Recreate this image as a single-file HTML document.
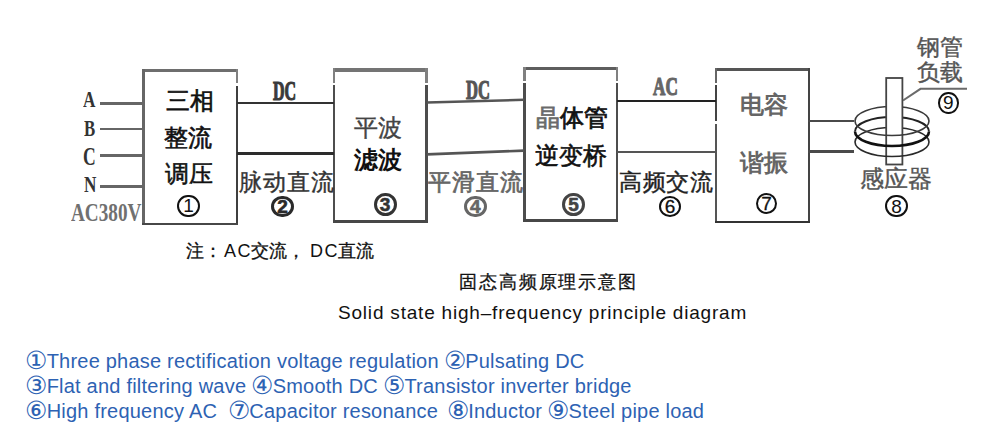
<!DOCTYPE html>
<html><head><meta charset="utf-8">
<style>
html,body{margin:0;padding:0;background:#fff;}
body{width:1000px;height:436px;position:relative;overflow:hidden;font-family:"Liberation Sans",sans-serif;color:#222;}
.a{position:absolute;white-space:nowrap;}
.r{position:absolute;}
.hl{position:absolute;height:2.5px;background:#4a4a4a;}
.lab{position:absolute;font-family:"Liberation Serif",serif;font-weight:bold;color:#333;font-size:20px;line-height:20px;transform-origin:0 0;white-space:nowrap;}
.cj{position:absolute;font-size:24px;line-height:24px;color:#222;white-space:nowrap;-webkit-text-stroke:0.4px currentColor;}
.cn{position:absolute;box-sizing:border-box;border-radius:50%;display:flex;align-items:center;justify-content:center;font-family:"Liberation Sans",sans-serif;line-height:1;}
.blue{position:absolute;color:#2d62b3;font-size:20px;line-height:22px;white-space:nowrap;letter-spacing:0.22px;}
.blue span{font-size:25px;letter-spacing:0;position:relative;top:0.5px;margin:0 -0.7px;}
</style></head><body>
<!-- input lines -->
<div class="hl" style="left:99.6px;top:102.2px;width:43px;height:2.8px;background:#666;"></div>
<div class="hl" style="left:99.6px;top:127.6px;width:43px;height:2.8px;background:#666;"></div>
<div class="hl" style="left:99.6px;top:153.9px;width:43px;height:2.8px;background:#666;"></div>
<div class="hl" style="left:99.6px;top:185px;width:43px;height:2.8px;background:#666;"></div>
<div class="lab" style="left:83px;top:86.5px;transform:scale(0.86,1.2);">A</div>
<div class="lab" style="left:84px;top:115.5px;transform:scale(0.84,1.2);">B</div>
<div class="lab" style="left:83px;top:144px;transform:scale(0.88,1.24);">C</div>
<div class="lab" style="left:83.5px;top:171.5px;transform:scale(0.86,1.2);">N</div>
<div class="lab" style="left:71px;top:199.5px;color:#707070;transform:scale(0.96,1.25);">AC380V</div>

<!-- boxes -->
<div class="r" style="left:142px;top:68.8px;width:96.3px;height:3.2px;background:#6e6e6e;"></div>
<div class="r" style="left:142px;top:68.8px;width:2.6px;height:156.5px;background:#666;"></div>
<div class="r" style="left:235.70000000000002px;top:68.8px;width:2.6px;height:14.700000000000003px;background:#808080;"></div>
<div class="r" style="left:235.70000000000002px;top:85.7px;width:2.6px;height:139.60000000000002px;background:#3f3f3f;"></div>
<div class="r" style="left:142px;top:222.70000000000002px;width:96.30000000000001px;height:2.6px;background:#474747;"></div>
<div class="r" style="left:332.6px;top:68px;width:95.4px;height:3.5px;background:#747474;"></div>
<div class="r" style="left:332.6px;top:68px;width:2.6px;height:15px;background:#808080;"></div>
<div class="r" style="left:332.6px;top:85.2px;width:2.6px;height:137.8px;background:#4d4d4d;"></div>
<div class="r" style="left:425.4px;top:68px;width:2.6px;height:15px;background:#808080;"></div>
<div class="r" style="left:425.4px;top:85.2px;width:2.6px;height:137.8px;background:#4d4d4d;"></div>
<div class="r" style="left:332.6px;top:220.4px;width:95.39999999999998px;height:2.6px;background:#474747;"></div>
<div class="r" style="left:523.2px;top:66.6px;width:95.3px;height:3.5px;background:#5e5e5e;"></div>
<div class="r" style="left:523.2px;top:66.6px;width:2.6px;height:14.600000000000009px;background:#808080;"></div>
<div class="r" style="left:523.2px;top:83.4px;width:2.6px;height:138.40000000000003px;background:#4d4d4d;"></div>
<div class="r" style="left:615.9px;top:66.6px;width:2.6px;height:14.600000000000009px;background:#808080;"></div>
<div class="r" style="left:615.9px;top:83.4px;width:2.6px;height:138.40000000000003px;background:#4d4d4d;"></div>
<div class="r" style="left:523.2px;top:219.20000000000002px;width:95.29999999999995px;height:2.6px;background:#474747;"></div>
<div class="r" style="left:715px;top:68px;width:95px;height:2.6px;background:#555;"></div>
<div class="r" style="left:715px;top:68px;width:2.4px;height:14.6px;background:#666;"></div>
<div class="r" style="left:715px;top:84.8px;width:2.4px;height:36px;background:#444;"></div>
<div class="r" style="left:715px;top:123.5px;width:2.4px;height:99.5px;background:#555;"></div>
<div class="r" style="left:807.6px;top:68px;width:2.4px;height:155px;background:#444;"></div>
<div class="r" style="left:715px;top:220.6px;width:95px;height:2.4px;background:#333;"></div>

<!-- box1 text -->
<div class="cj" style="left:166px;top:89px;-webkit-text-stroke:0.6px #111;color:#111;">三相</div>
<div class="cj" style="left:164px;top:126px;-webkit-text-stroke:0.6px #111;color:#111;">整流</div>
<div class="cj" style="left:165px;top:162px;-webkit-text-stroke:0.5px #111;color:#111;">调压</div>

<!-- connections 1-2 -->
<div class="hl" style="left:237px;top:101.6px;width:97px;height:2.5px;background:#333;"></div>
<div class="hl" style="left:237px;top:152px;width:97px;height:2.8px;background:#2c2c2c;"></div>
<div class="lab" style="left:273px;top:77px;transform:scale(0.8,1.36);color:#3a3a3a;-webkit-text-stroke:0.9px #3a3a3a;">DC</div>
<div class="cj" style="left:239px;top:170.5px;color:#333;font-size:22.5px;letter-spacing:1px;">脉动直流</div>

<!-- box2 text -->
<div class="cj" style="left:354px;top:116px;color:#444;">平波</div>
<div class="cj" style="left:354px;top:148px;color:#111;font-weight:bold;-webkit-text-stroke:0;">滤波</div>

<!-- connections 2-3 -->
<svg class="a" style="left:0;top:0" width="1000" height="436"><path d="M427 102.5 L524 99.8" stroke="#555" stroke-width="2.6" fill="none"/><path d="M427 154.4 L524 150.6" stroke="#555" stroke-width="2.6" fill="none"/></svg>

<div class="lab" style="left:466px;top:76px;transform:scale(0.83,1.36);color:#555;-webkit-text-stroke:0.9px #555;">DC</div>
<div class="cj" style="left:428px;top:171px;color:#666;-webkit-text-stroke:0.7px #666;font-size:22.5px;letter-spacing:1px;">平滑直流</div>

<!-- box3 text -->
<div class="cj" style="left:536px;top:106px;color:#111;-webkit-text-stroke:0.8px #111;"><span style="color:#6a6a6a;-webkit-text-stroke:0.8px #6a6a6a;">晶</span>体管</div>
<div class="cj" style="left:535px;top:144px;color:#111;-webkit-text-stroke:0.6px #111;">逆变桥</div>

<!-- connections 3-4 -->
<div class="hl" style="left:617px;top:99.8px;width:99px;height:2px;background:#222;"></div>
<div class="hl" style="left:617px;top:150.8px;width:99px;height:2.2px;background:#555;"></div>
<div class="lab" style="left:653px;top:73.5px;color:#666;transform:scale(0.86,1.26);-webkit-text-stroke:0.9px #666;">AC</div>
<div class="cj" style="left:619px;top:171px;font-size:22.5px;letter-spacing:0.5px;">高频交流</div>

<!-- box4 text -->
<div class="cj" style="left:740px;top:93px;color:#666;font-weight:bold;-webkit-text-stroke:0;">电容</div>
<div class="cj" style="left:740px;top:151px;color:#666;font-weight:bold;-webkit-text-stroke:0;">谐振</div>

<!-- output lines -->
<div class="hl" style="left:808px;top:119.8px;width:46px;height:2.5px;background:#4a4a4a;"></div>
<div class="hl" style="left:808px;top:150.2px;width:46px;height:2.5px;background:#4a4a4a;"></div>

<!-- inductor -->
<svg class="a" style="left:0;top:0" width="1000" height="436">
  <g fill="none">
    <path d="M855 121 A37 14.5 0 0 1 929 121" stroke="#3a3a3a" stroke-width="1.6"/><path d="M855 131.5 A37 14.5 0 0 1 929 131.5" stroke="#222" stroke-width="1.9"/><path d="M855 142 A37 14.5 0 0 1 929 142" stroke="#2a2a2a" stroke-width="1.6"/>
  </g>
  <rect x="886.2" y="78" width="16.2" height="86.5" fill="#fff" stroke="#444" stroke-width="1.8"/>
  <g fill="none">
    <path d="M855 121 A37 14.5 0 0 0 929 121" stroke="#3a3a3a" stroke-width="1.6"/><path d="M855 131.5 A37 14.5 0 0 0 929 131.5" stroke="#111" stroke-width="2.6"/><path d="M855 142 A37 14.5 0 0 0 929 142" stroke="#2a2a2a" stroke-width="1.6"/>
  </g>
  <path d="M903 100.5 L920.5 88.8 L967 88.8" fill="none" stroke="#6a6a6a" stroke-width="2"/>
</svg>
<div class="cj" style="left:916.5px;top:35px;color:#555;font-size:23px;">钢管</div>
<div class="cj" style="left:916.5px;top:60px;color:#555;font-size:23px;">负载</div>
<div class="cj" style="left:860px;top:167px;color:#555;">感应器</div>

<!-- circled numbers -->
<div class="cn" style="left:177.4px;top:194.6px;width:22.2px;height:22.6px;border:2.0px solid #111;color:#111;font-weight:normal;font-size:19px;">1</div>
<div class="cn" style="left:271.2px;top:195.5px;width:22.5px;height:21.7px;border:3.0px solid #2a2a2a;color:#2a2a2a;font-weight:bold;font-size:19px;-webkit-text-stroke:0.6px currentColor;">2</div>
<div class="cn" style="left:373.6px;top:193.0px;width:23.0px;height:23.4px;border:3.4px solid #333;color:#333;font-weight:bold;font-size:19px;-webkit-text-stroke:0.6px currentColor;">3</div>
<div class="cn" style="left:464.0px;top:195.5px;width:22.5px;height:21.7px;border:3.0px solid #666;color:#666;font-weight:bold;font-size:19px;-webkit-text-stroke:0.6px currentColor;">4</div>
<div class="cn" style="left:562.2px;top:193.2px;width:22.5px;height:23.3px;border:3.0px solid #444;color:#444;font-weight:bold;font-size:19px;-webkit-text-stroke:0.6px currentColor;">5</div>
<div class="cn" style="left:659.2px;top:195.5px;width:21.8px;height:21.0px;border:2.3px solid #111;color:#111;font-weight:normal;font-size:19px;-webkit-text-stroke:0.3px currentColor;">6</div>
<div class="cn" style="left:756.0px;top:193.2px;width:21.0px;height:21.0px;border:2.2px solid #111;color:#111;font-weight:normal;font-size:19px;-webkit-text-stroke:0.3px currentColor;">7</div>
<div class="cn" style="left:885.4px;top:195.0px;width:22.2px;height:22.2px;border:2.0px solid #111;color:#111;font-weight:normal;font-size:19px;">8</div>
<div class="cn" style="left:938.0px;top:92.0px;width:20.5px;height:21.5px;border:2.0px solid #111;color:#111;font-weight:normal;font-size:19px;">9</div>

<!-- notes -->
<div class="a" style="left:186px;top:241px;font-size:18px;line-height:20px;color:#111;-webkit-text-stroke:0.3px #111;">注：</div>
<div class="a" style="left:224px;top:241px;font-size:18px;line-height:20px;color:#111;letter-spacing:1.5px;">AC</div>
<div class="a" style="left:251px;top:241px;font-size:18px;line-height:20px;color:#111;-webkit-text-stroke:0.3px #111;">交流，</div>
<div class="a" style="left:310px;top:241px;font-size:18px;line-height:20px;color:#111;letter-spacing:1.5px;">DC</div>
<div class="a" style="left:338px;top:241px;font-size:18px;line-height:20px;color:#111;-webkit-text-stroke:0.3px #111;">直流</div>
<div class="a" style="left:459px;top:272px;font-size:18px;line-height:20px;color:#111;letter-spacing:1.9px;-webkit-text-stroke:0.3px #111;">固态高频原理示意图</div>
<div class="a" style="left:338px;top:302px;font-size:19px;line-height:22px;color:#111;letter-spacing:0.8px;">Solid state high–frequency principle diagram</div>

<div class="blue" style="left:26px;top:348px;"><span>①</span>Three phase rectification voltage regulation <span>②</span>Pulsating DC</div>
<div class="blue" style="left:26px;top:373px;"><span>③</span>Flat and filtering wave <span>④</span>Smooth DC <span>⑤</span>Transistor inverter bridge</div>
<div class="blue" style="left:26px;top:398px;"><span>⑥</span>High frequency AC &nbsp;<span>⑦</span>Capacitor resonance <span style="margin-left:3px">⑧</span>Inductor <span>⑨</span>Steel pipe load</div>
</body></html>
